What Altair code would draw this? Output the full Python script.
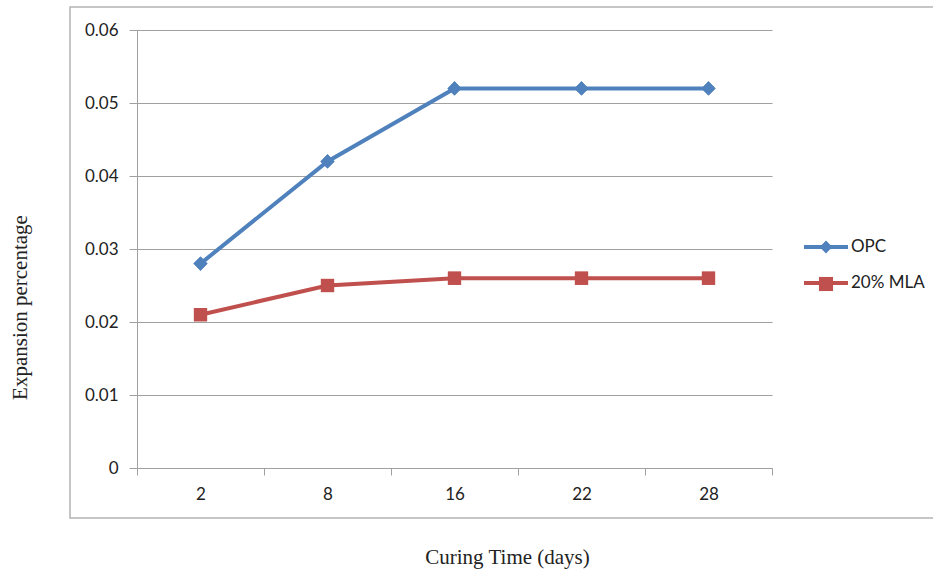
import altair as alt
import pandas as pd

# ---- data ----
days = ["2", "8", "16", "22", "28"]
opc = [0.028, 0.042, 0.052, 0.052, 0.052]
mla = [0.021, 0.025, 0.026, 0.026, 0.026]
series_names = ["OPC", "20% MLA"]
colors = ["#4F81BD", "#C0504D"]
y_ticks = [0, 0.01, 0.02, 0.03, 0.04, 0.05, 0.06]

rows = []
for name, vals in zip(series_names, [opc, mla]):
    for d, v in zip(days, vals):
        # copies of the series name feed separate scales/legends
        rows.append({"day": d, "value": v, "s_line": name, "s_a": name,
                     "s_b": name, "s_shape": name})
df = pd.DataFrame(rows)

W, H = 635, 438
GRAY = "#a0a0a0"
TXT = "#222222"
SANS = "Lato"
SERIF = "Liberation Serif"

diamond = "M0,-0.64L0.64,0L0,0.64L-0.64,0Z"
square = "M-0.6,-0.6H0.6V0.6H-0.6Z"
legend_line = "M-2,0H2"
legend_diamond = "M0,-0.58L0.58,0L0,0.58L-0.58,0Z"
legend_square = "M-0.64,-0.64H0.64V0.64H-0.64Z"

LX, LY, PITCH = 676, 204, 37

x_enc = alt.X(
    "day:N",
    sort=days,
    scale=alt.Scale(type="band", paddingInner=0, paddingOuter=0),
    axis=alt.Axis(
        title="Curing Time (days)",
        tickBand="extent",
        labelAngle=0,
        grid=False,
        domainColor=GRAY,
        tickColor=GRAY,
        tickSize=7,
        labelPadding=19,
        labelBaseline="middle",
        labelFont=SANS,
        labelFontSize=17,
        labelColor=TXT,
        titleFont=SERIF,
        titleFontSize=21,
        titleFontWeight="normal",
        titleColor=TXT,
        titleX=370,
        titleY=89,
        titleAlign="center",
        titleBaseline="middle",
    ),
)

y_enc = alt.Y(
    "value:Q",
    scale=alt.Scale(domain=[0, 0.06], nice=False, zero=True),
    axis=alt.Axis(
        title="Expansion percentage",
        values=y_ticks,
        format="~g",
        grid=True,
        gridColor=GRAY,
        domainColor=GRAY,
        tickColor=GRAY,
        tickSize=8,
        labelPadding=11,
        labelFont=SANS,
        labelFontSize=17,
        labelColor=TXT,
        titleFont=SERIF,
        titleFontSize=21,
        titleFontWeight="normal",
        titleColor=TXT,
        titleAngle=270,
        titleX=-117,
        titleY=277,
        titleAlign="center",
        titleBaseline="middle",
    ),
)

common = dict(
    title=None,
    orient="none",
    legendX=LX,
    symbolSize=484,
    symbolStrokeWidth=4,
    labelOffset=12,
    labelFont=SANS,
    labelFontSize=17,
    rowPadding=15,
    padding=0,
)

shape_enc = alt.Shape(
    "s_shape:N",
    sort=series_names,
    scale=alt.Scale(range=[diamond, square]),
    legend=None,
)

lines = alt.Chart(df).mark_line(strokeWidth=4).encode(
    x=x_enc,
    y=y_enc,
    stroke=alt.Stroke(
        "s_line:N",
        sort=series_names,
        scale=alt.Scale(range=colors),
        legend=alt.Legend(symbolType=legend_line, legendY=LY, labelColor=TXT, **common),
    ),
)

points_a = alt.Chart(df).mark_point(filled=True, opacity=1, size=484, strokeWidth=0).encode(
    x=x_enc,
    y=y_enc,
    color=alt.Color(
        "s_a:N",
        sort=series_names,
        scale=alt.Scale(range=colors),
        legend=alt.Legend(
            values=[series_names[0]],
            symbolType=legend_diamond,
            legendY=LY,
            labelOpacity=0,
            zindex=1,
            **common,
        ),
    ),
    shape=shape_enc,
)

points_b = alt.Chart(df).mark_point(filled=True, opacity=1, size=484, strokeWidth=0).encode(
    x=x_enc,
    y=y_enc,
    fill=alt.Fill(
        "s_b:N",
        sort=series_names,
        scale=alt.Scale(range=colors),
        legend=alt.Legend(
            values=[series_names[1]],
            symbolType=legend_square,
            legendY=LY + PITCH,
            labelOpacity=0,
            zindex=1,
            **common,
        ),
    ),
    shape=shape_enc,
)

frame = alt.Chart(alt.Data(values=[{"a": 1}])).mark_rect(
    fillOpacity=0, stroke="#b4b4b4", strokeWidth=1.5
).encode(
    x=alt.value(-67), x2=alt.value(800), y=alt.value(-23), y2=alt.value(488)
)

chart = (
    alt.layer(frame, lines, points_a, points_b)
    .properties(
        width=W,
        height=H,
        autosize=alt.AutoSizeParams(type="none"),
        padding={"left": 137, "top": 30, "right": 161, "bottom": 103},
        background="white",
    )
    .configure_view(strokeWidth=0)
)

chart.save("out.html", embed_options={"renderer": "svg", "actions": False})
